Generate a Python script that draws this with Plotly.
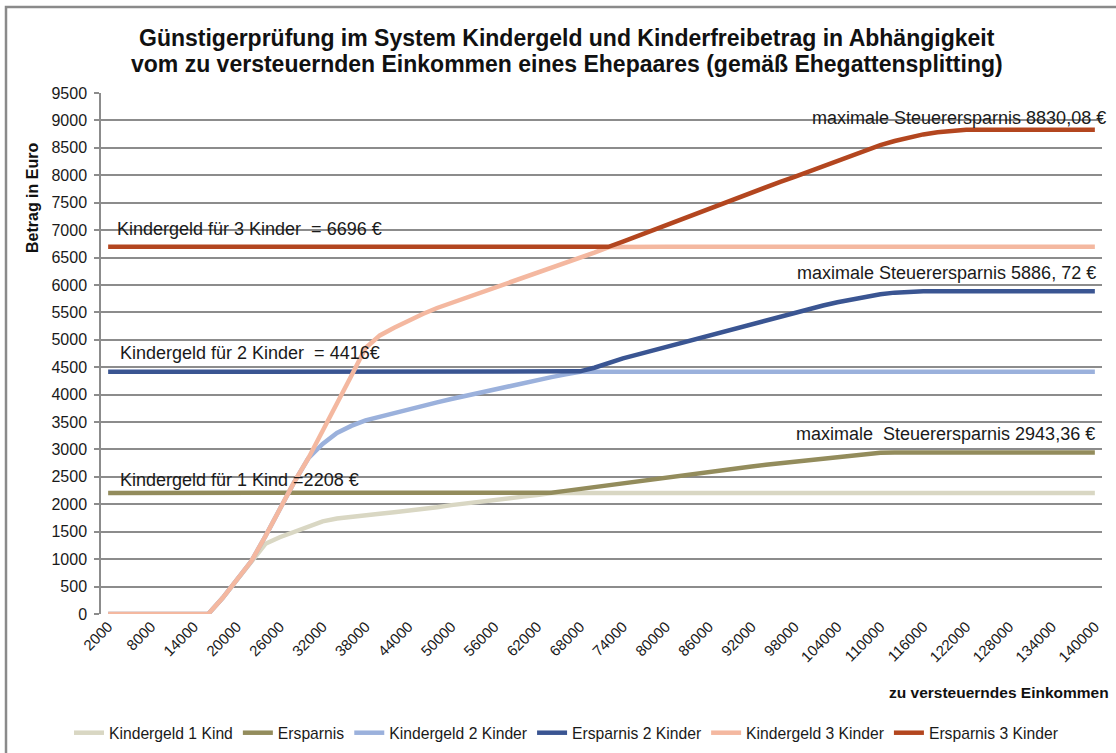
import plotly.graph_objects as go

# ---- data ----
einkommen = list(range(2000, 140001, 2000))

# tax saving from the child allowance (Kinderfreibetrag), per number of children
ersparnis_1 = [0, 0, 0, 0, 0, 0, 0, 0, 290, 620, 960, 1280, 1400, 1500, 1600, 1690,
               1740, 1775, 1805, 1830, 1855, 1880, 1910, 1945, 1985, 2020, 2050, 2080,
               2110, 2140, 2170, 2210, 2245, 2280, 2320, 2360, 2395, 2430, 2465, 2500,
               2535, 2565, 2600, 2630, 2660, 2690, 2720, 2750, 2780, 2810, 2840, 2870,
               2900, 2925, 2940, 2943.36, 2943.36, 2943.36, 2943.36, 2943.36, 2943.36,
               2943.36, 2943.36, 2943.36, 2943.36, 2943.36, 2943.36, 2943.36, 2943.36,
               2943.36]
ersparnis_2 = [0, 0, 0, 0, 0, 0, 0, 0, 290, 620, 960, 1420, 1910, 2400, 2840, 3100,
               3300, 3430, 3530, 3600, 3650, 3720, 3790, 3860, 3920, 3980, 4040, 4100,
               4160, 4215, 4270, 4320, 4370, 4425, 4490, 4580, 4660, 4730, 4800, 4870,
               4940, 5010, 5080, 5150, 5220, 5290, 5360, 5430, 5500, 5565, 5625, 5685,
               5740, 5790, 5830, 5860, 5877, 5885, 5886.72, 5886.72, 5886.72, 5886.72,
               5886.72, 5886.72, 5886.72, 5886.72, 5886.72, 5886.72, 5886.72, 5886.72]
ersparnis_3 = [0, 0, 0, 0, 0, 0, 0, 0, 290, 620, 960, 1420, 1910, 2400, 2840, 3330,
               3840, 4340, 4850, 5080, 5220, 5350, 5470, 5580, 5670, 5770, 5860, 5950,
               6040, 6130, 6220, 6310, 6400, 6490, 6590, 6690, 6790, 6890, 6990, 7100,
               7200, 7300, 7400, 7490, 7590, 7690, 7790, 7880, 7970, 8070, 8160, 8260,
               8370, 8465, 8550, 8625, 8690, 8745, 8785, 8815, 8830.08, 8830.08, 8830.08,
               8830.08, 8830.08, 8830.08, 8830.08, 8830.08, 8830.08, 8830.08]

kindergeld_betrag = [2208, 4416, 6696]

series_names = ["Kindergeld 1 Kind", "Ersparnis", "Kindergeld 2 Kinder",
                "Ersparnis 2 Kinder", "Kindergeld 3 Kinder", "Ersparnis 3 Kinder"]
series_colors = ["#D9D7C3", "#938C5C", "#9BB1DC", "#3A5592", "#F4B8A0", "#B3461F"]

x_ticks = list(range(2000, 140001, 6000))
y_ticks = list(range(0, 9501, 500))

title_lines = ["Günstigerprüfung im System Kindergeld und Kinderfreibetrag in Abhängigkeit",
               "vom zu versteuernden Einkommen eines Ehepaares (gemäß Ehegattensplitting)"]

# ---- build series: lower envelope = Kindergeld curve, upper = Ersparnis curve ----
savings = [ersparnis_1, ersparnis_2, ersparnis_3]
series_values = []
for kg, s in zip(kindergeld_betrag, savings):
    series_values.append([min(kg, v) for v in s])
    series_values.append([max(kg, v) for v in s])

fig = go.Figure()
for name, col, vals in zip(series_names, series_colors, series_values):
    fig.add_trace(go.Scatter(x=einkommen, y=vals, mode="lines", name=name,
                             line=dict(color=col, width=4.5)))

FONT = "Liberation Sans, Arial, sans-serif"
L, T, W, H = 101, 93, 1001, 521   # plot area in pixels


def px_x(p):
    return (p - L) / W


def px_y(p):
    return (T + H - p) / H


fig.update_layout(
    width=1116, height=753,
    margin=dict(l=L, r=1116 - L - W, t=T, b=753 - T - H, autoexpand=False),
    paper_bgcolor="white", plot_bgcolor="white",
    font=dict(family=FONT, size=16, color="#1a1a1a"),
    showlegend=True,
    legend=dict(orientation="h", x=px_x(566), xanchor="center", y=px_y(733), yanchor="middle",
                font=dict(family=FONT, size=15.7, color="#1a1a1a"),
                bgcolor="rgba(0,0,0,0)", tracegroupgap=0),
    xaxis=dict(range=[1000, 141000], tickmode="array", tickvals=x_ticks,
               ticktext=[str(v) for v in x_ticks], tickangle=-45, automargin=False,
               showgrid=False, zeroline=False, showline=False,
               tickfont=dict(size=15, family=FONT, color="#1a1a1a"), ticks=""),
    yaxis=dict(range=[0, 9500], tickmode="array", tickvals=y_ticks, automargin=False,
               showgrid=True, gridcolor="#8c8c8c", gridwidth=1.5, zeroline=False,
               showline=True, linecolor="#8c8c8c", linewidth=1.5,
               ticks="outside", ticklen=5, tickcolor="#8c8c8c", tickwidth=1.5,
               ticklabelstandoff=4,
               tickfont=dict(size=16, family=FONT, color="#1a1a1a")),
)

# title (two lines)
for line, yc in zip(title_lines, [38, 64]):
    fig.add_annotation(text="<b>" + line + "</b>", xref="paper", yref="paper",
                       x=px_x(567), y=px_y(yc), showarrow=False,
                       xanchor="center", yanchor="middle",
                       font=dict(size=23, family=FONT, color="#111111"))

# axis titles
fig.add_annotation(text="<b>Betrag in Euro</b>", xref="paper", yref="paper",
                   x=px_x(32), y=px_y(198), textangle=-90,
                   showarrow=False, font=dict(size=16, family=FONT, color="#111111"),
                   xanchor="center", yanchor="middle")
fig.add_annotation(text="<b>zu versteuerndes Einkommen</b>", xref="paper", yref="paper",
                   x=px_x(887), y=px_y(692), showarrow=False,
                   font=dict(size=15.5, family=FONT, color="#111111"),
                   xanchor="left", yanchor="middle")

# labels inside the plot (pixel anchors)
labels = [
    ("Kindergeld für 3 Kinder  = 6696 €", 115, 229, "left"),
    ("Kindergeld für 2 Kinder  = 4416€", 118, 353, "left"),
    ("Kindergeld für 1 Kind =2208 €", 118, 480, "left"),
    ("maximale Steuerersparnis 8830,08 €", 1108, 118, "right"),
    ("maximale Steuerersparnis 5886, 72 €", 1098, 273, "right"),
    ("maximale  Steuerersparnis 2943,36 €", 1097, 434, "right"),
]
for txt, xp, yp, anc in labels:
    fig.add_annotation(text=txt, x=px_x(xp), y=px_y(yp), xref="paper", yref="paper",
                       showarrow=False, xanchor=anc, yanchor="middle",
                       font=dict(size=18, family=FONT, color="#1a1a1a"))

# chart-area border
fig.add_shape(type="rect", xref="paper", yref="paper",
              x0=px_x(6), x1=px_x(1125), y0=px_y(765), y1=px_y(7),
              line=dict(color="#8a8a8a", width=2.5), layer="below")

fig.write_html("out.html", config={"displayModeBar": False},
               post_script="document.body.style.margin='0';")
